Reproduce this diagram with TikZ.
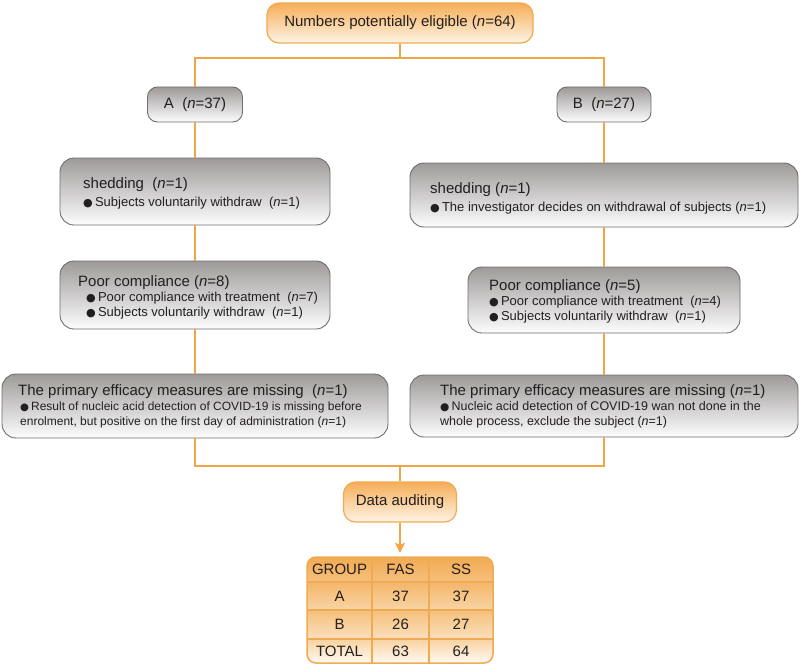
\documentclass[tikz,border=0pt]{standalone}
\usepackage{fontspec}
\setmainfont{Liberation Sans}
\newfontfamily\symf{DejaVu Sans}
\usetikzlibrary{arrows.meta}
\definecolor{conn}{RGB}{242,165,70}
\definecolor{obrd}{RGB}{240,170,82}
\definecolor{otop}{RGB}{245,174,88}
\definecolor{obot}{RGB}{254,244,230}
\definecolor{gtop}{RGB}{158,154,154}
\definecolor{gmid}{RGB}{196,193,193}
\definecolor{gbot}{RGB}{253,253,253}
\definecolor{gbrd}{RGB}{110,110,110}
\definecolor{txtc}{RGB}{35,31,32}
\definecolor{th1}{RGB}{242,170,82}
\definecolor{th2}{RGB}{246,192,125}
\definecolor{ta1}{RGB}{244,182,105}
\definecolor{ta2}{RGB}{249,212,165}
\definecolor{tb1}{RGB}{246,192,122}
\definecolor{tb2}{RGB}{250,224,190}
\definecolor{tc1}{RGB}{249,210,160}
\definecolor{tc2}{RGB}{255,250,244}
\newcommand\nn{\textit{n}}
\newcommand\blt{{\symf\scalebox{0.85}{●}}\,}
\newcommand\ttl{\fontsize{15}{17}\selectfont}
\tikzset{
  gbox/.style={draw=gbrd, line width=0.9pt, rounded corners=14pt, top color=gtop, middle color=gmid, bottom color=gbot, inner sep=0pt},
  sbox/.style={gbox, rounded corners=10pt},
  obox/.style={draw=obrd, line width=1.2pt, rounded corners=12pt, top color=otop, bottom color=obot, inner sep=0pt, text=txtc, font=\ttl},
  lbl/.style={text=txtc, align=left, inner sep=0pt, anchor=west, font=\fontsize{13}{15}\selectfont},
  cell/.style={text=txtc, inner sep=0pt, font=\ttl},
  cn/.style={draw=conn, line width=1.5pt},
  tline/.style={draw=obrd, line width=1.5pt},
}
\begin{document}
\begin{tikzpicture}[x=1pt,y=-1pt]
\useasboundingbox (0,0) rectangle (800,666);

% boxes
\node[obox, minimum width=266, minimum height=40] (top) at (400,23) {Numbers potentially eligible (\nn=64)};
\node[sbox, minimum width=95, minimum height=35, text=txtc, font=\ttl] (A) at (195,104.5) {A\ \ (\nn=37)};
\node[sbox, minimum width=94, minimum height=35, text=txtc, font=\ttl] (B) at (604,104.5) {B\ \ (\nn=27)};

\node[gbox, minimum width=270, minimum height=67] (shA) at (195,191.5) {};
\node[gbox, minimum width=388, minimum height=64] (shB) at (604,195) {};
\node[gbox, minimum width=270, minimum height=68] (poorA) at (195,295) {};
\node[gbox, minimum width=272, minimum height=66] (poorB) at (604,300) {};
\node[gbox, minimum width=386, minimum height=64] (primA) at (195,406) {};
\node[gbox, minimum width=388, minimum height=62] (primB) at (604,406) {};

\node[obox, minimum width=113, minimum height=40] (data) at (400,502) {Data auditing};

% box texts
\node[lbl] (shAt) at (83,193) {{\ttl shedding\ \ (\nn=1)}\\[3pt]\blt Subjects voluntarily withdraw\ \ (\nn=1)};
\node[lbl] (shBt) at (430,198) {{\ttl shedding (\nn=1)}\\[3pt]\blt The investigator decides on withdrawal of subjects (\nn=1)};
\node[lbl] (poorAt) at (78,297) {{\ttl Poor compliance (\nn=8)}\\\hspace*{8pt}\blt Poor compliance with treatment\ \ (\nn=7)\\\hspace*{8pt}\blt Subjects voluntarily withdraw\ \ (\nn=1)};
\node[lbl] (poorBt) at (489,301) {{\ttl Poor compliance (\nn=5)}\\\blt Poor compliance with treatment\ \ (\nn=4)\\\blt Subjects voluntarily withdraw\ \ (\nn=1)};
\node[lbl, font=\fontsize{12}{15}\selectfont] (primAt) at (18,406) {{\ttl The primary efficacy measures are missing\ \ (\nn=1)}\\\hspace*{2pt}\blt Result of nucleic acid detection of COVID-19 is missing before\\\hspace*{2pt}enrolment,\ but positive on the first day of administration\ (\nn=1)};
\node[lbl, font=\fontsize{12.5}{15}\selectfont] (primBt) at (440,406) {{\ttl The primary efficacy measures are missing (\nn=1)}\\\blt Nucleic acid detection of COVID-19 wan not done in the\\whole process, exclude the subject (\nn=1)};

% connectors
\coordinate (j1) at (400,58);
\coordinate (j2) at (400,466);
\draw[cn] (top) -- (j1);
\draw[cn] (A) |- (j1) -| (B);
\draw[cn] (A) -- (shA);
\draw[cn] (shA) -- (poorA);
\draw[cn] (poorA) -- (primA);
\draw[cn] (B) -- (shB);
\draw[cn] (shB) -- (poorB);
\draw[cn] (poorB) -- (primB);
\draw[cn] (primA) |- (j2) -| (primB);
\draw[cn] (j2) -- (data);

% table
\node[minimum width=186, minimum height=106, inner sep=0pt] (tbl) at (400,610) {};
\draw[cn, -{Stealth[length=10pt,width=10pt,inset=2pt]}, shorten >=4pt] (data) -- (tbl);
\begin{scope}
  \clip[rounded corners=9pt] (307,557) rectangle (493,663);
  \shade[top color=th1, bottom color=th2] (307,557) rectangle (493,582);
  \shade[top color=ta1, bottom color=ta2] (307,582) rectangle (493,610);
  \shade[top color=tb1, bottom color=tb2] (307,610) rectangle (493,639);
  \shade[top color=tc1, bottom color=tc2] (307,639) rectangle (493,663);
\end{scope}
\draw[tline] (307,582) -- (493,582);
\draw[tline] (307,610) -- (493,610);
\draw[tline] (307,639) -- (493,639);
\draw[tline] (372,557) -- (372,663);
\draw[tline] (429,557) -- (429,663);
\draw[tline, rounded corners=9pt] (307,557) rectangle (493,663);

\node[cell] (c11) at (339.5,569.5) {GROUP};
\node[cell] (c12) at (400.5,569.5) {FAS};
\node[cell] (c13) at (461,569.5) {SS};
\node[cell] (c21) at (339.5,596) {A};
\node[cell] (c22) at (400.5,596) {37};
\node[cell] (c23) at (461,596) {37};
\node[cell] (c31) at (339.5,624.5) {B};
\node[cell] (c32) at (400.5,624.5) {26};
\node[cell] (c33) at (461,624.5) {27};
\node[cell] (c41) at (339.5,651) {TOTAL};
\node[cell] (c42) at (400.5,651) {63};
\node[cell] (c43) at (461,651) {64};
\end{tikzpicture}
\end{document}
